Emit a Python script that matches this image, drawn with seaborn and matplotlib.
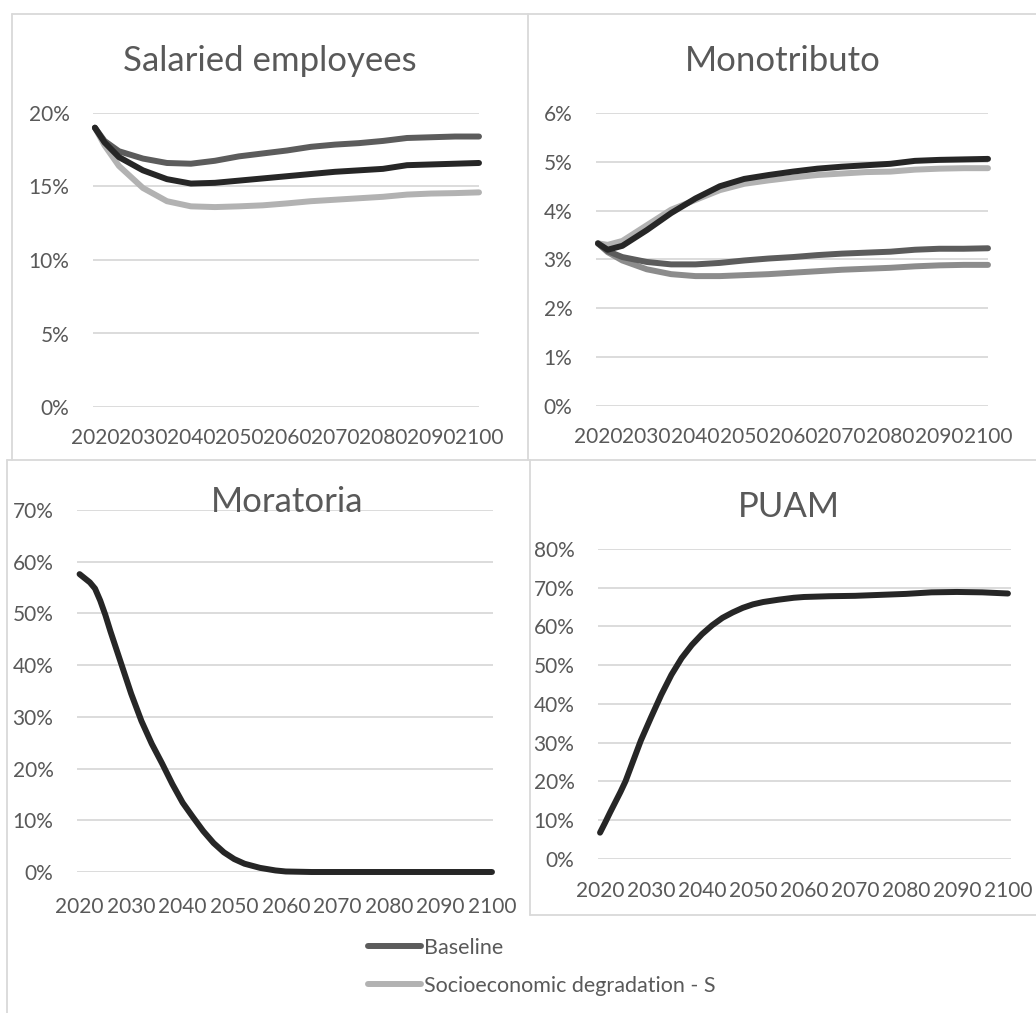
import pandas as pd
import matplotlib
matplotlib.use("Agg")
import matplotlib.pyplot as plt
from matplotlib.lines import Line2D
from matplotlib.ticker import FuncFormatter
import seaborn as sns

# values, in percent
years = [2020, 2022, 2025, 2030, 2035, 2040, 2045, 2050, 2055, 2060,
         2065, 2070, 2075, 2080, 2085, 2090, 2095, 2100]

sal_baseline = [19.0, 18.1, 17.4, 16.9, 16.6, 16.55, 16.75, 17.05, 17.25, 17.45,
                17.7, 17.85, 17.95, 18.1, 18.3, 18.35, 18.4, 18.4]
sal_socio = [19.0, 17.8, 16.4, 14.9, 14.0, 13.65, 13.6, 13.65, 13.72, 13.85,
             14.0, 14.1, 14.2, 14.3, 14.45, 14.52, 14.55, 14.6]
sal_other = [19.0, 18.0, 17.0, 16.1, 15.5, 15.2, 15.25, 15.4, 15.55, 15.7,
             15.85, 16.0, 16.1, 16.2, 16.45, 16.5, 16.55, 16.6]

mono_black = [3.33, 3.2, 3.28, 3.6, 3.95, 4.25, 4.5, 4.65, 4.73, 4.8,
              4.86, 4.9, 4.93, 4.96, 5.02, 5.04, 5.05, 5.06]
mono_light = [3.33, 3.3, 3.38, 3.7, 4.02, 4.22, 4.42, 4.55, 4.62, 4.68,
              4.73, 4.76, 4.79, 4.8, 4.84, 4.86, 4.87, 4.87]
mono_dark = [3.33, 3.17, 3.05, 2.95, 2.9, 2.9, 2.93, 2.98, 3.02, 3.05,
             3.09, 3.12, 3.14, 3.16, 3.2, 3.22, 3.22, 3.23]
mono_mid = [3.33, 3.15, 2.98, 2.8, 2.7, 2.66, 2.66, 2.68, 2.7, 2.73,
            2.76, 2.79, 2.81, 2.83, 2.86, 2.88, 2.89, 2.89]

# bottom panels change fast early on, so they are read more densely
years_fine = [2020, 2021, 2022, 2023, 2024, 2025, 2026, 2027, 2028, 2030,
              2032, 2034, 2036, 2038, 2040, 2042, 2044, 2046, 2048, 2050,
              2052, 2055, 2058, 2060, 2065, 2070, 2080, 2085, 2090, 2095, 2100]
moratoria = [57.6, 56.8, 56.0, 54.8, 52.5, 49.7, 46.5, 43.5, 40.5, 34.5,
             29.2, 24.8, 21.0, 17.0, 13.4, 10.6, 7.9, 5.6, 3.8, 2.5,
             1.6, 0.8, 0.3, 0.1, 0.0, 0.0, 0.0, 0.0, 0.0, 0.0, 0.0]
puam = [6.7, 9.3, 12.0, 14.6, 17.2, 20.0, 23.5, 27.0, 30.5, 36.5,
        42.3, 47.5, 51.8, 55.2, 58.0, 60.3, 62.2, 63.6, 64.8, 65.7,
        66.3, 66.9, 67.4, 67.6, 67.8, 67.9, 68.4, 68.8, 68.9, 68.8, 68.5]

x_ticks = [2020, 2030, 2040, 2050, 2060, 2070, 2080, 2090, 2100]
legend_labels = ["Baseline", "Socioeconomic degradation - S"]

BLACK = "#262626"
DARK = "#5c5c5c"
MID = "#8c8c8c"
LIGHT = "#b2b2b2"
GRID = "#d9d9d9"
TXT = "#595959"

sns.set_theme(style="white")
plt.rcParams["font.family"] = ["Lato", "DejaVu Sans"]

W, H = 1036, 1013
fig = plt.figure(figsize=(W / 100, H / 100), dpi=100)


def px_axes(x0, x1, y_top, y_bot):
    return fig.add_axes([x0 / W, 1 - y_bot / H, (x1 - x0) / W, (y_bot - y_top) / H])


def long_df(xs, series):
    frames = []
    for name, vals in series:
        frames.append(pd.DataFrame({"year": xs, "value": vals, "series": name}))
    return pd.concat(frames, ignore_index=True)


def draw_panel(ax, xs, series, colors, xlim, ymax, ystep, xpad=15):
    df = long_df(xs, series)
    sns.lineplot(data=df, x="year", y="value", hue="series", palette=colors,
                 hue_order=[s[0] for s in series], lw=4.3, legend=False, ax=ax)
    for ln in ax.lines:
        ln.set_clip_on(False)
        ln.set_solid_capstyle("round")
        ln.set_solid_joinstyle("round")
    ax.set_xlim(*xlim)
    ax.set_ylim(0, ymax)
    ax.set_xticks(x_ticks)
    ax.set_yticks(list(range(0, ymax + 1, ystep)))
    ax.yaxis.set_major_formatter(FuncFormatter(lambda v, p: f"{v:.0f}%"))
    ax.set_xlabel("")
    ax.set_ylabel("")
    ax.set_axisbelow(True)
    ax.yaxis.grid(True, color=GRID, lw=1.3)
    ax.xaxis.grid(False)
    sns.despine(ax=ax, left=True, bottom=True)
    ax.tick_params(axis="both", length=0, labelsize=15, colors=TXT)
    ax.tick_params(axis="y", pad=17)
    ax.tick_params(axis="x", pad=xpad)
    ax.patch.set_alpha(0)


# panel frames
def seg(x0, y0, x1, y1):
    fig.add_artist(Line2D([x0 / W, x1 / W], [1 - y0 / H, 1 - y1 / H],
                          color=GRID, lw=1.3, transform=fig.transFigure))


seg(12, 14, 1040, 14)
seg(12, 14, 12, 460)
seg(528, 14, 528, 460)
seg(7, 460, 1040, 460)
seg(7, 460, 7, 1020)
seg(530, 460, 530, 915)
seg(530, 915, 1040, 915)

# Salaried employees
ax1 = px_axes(93, 479, 113, 407)
draw_panel(ax1, years,
           [("Socioeconomic degradation - S", sal_socio), ("Baseline", sal_baseline),
            ("Other", sal_other)],
           [LIGHT, DARK, BLACK], (2019.6, 2100), 20, 5)

# Monotributo
ax2 = px_axes(596, 988, 113, 406)
draw_panel(ax2, years,
           [("mid", mono_mid), ("dark", mono_dark), ("light", mono_light),
            ("black", mono_black)],
           [MID, DARK, LIGHT, BLACK], (2019.6, 2100), 6, 1)

# Moratoria
ax3 = px_axes(77, 493, 510, 872)
draw_panel(ax3, years_fine, [("Moratoria", moratoria)], [BLACK],
           (2019.5, 2100.2), 70, 10, xpad=18)

# PUAM
ax4 = px_axes(598, 1011, 549, 858.6)
draw_panel(ax4, years_fine, [("PUAM", puam)], [BLACK],
           (2019.6, 2100.6), 80, 10, xpad=16)

# titles
title_kw = dict(ha="center", va="baseline", fontsize=25, color=TXT)
fig.text(270 / W, 1 - 71 / H, "Salaried employees", **title_kw)
fig.text(783 / W, 1 - 71 / H, "Monotributo", **title_kw)
fig.text(287 / W, 1 - 512 / H, "Moratoria", **title_kw)
fig.text(789 / W, 1 - 517 / H, "PUAM", **title_kw)

# legend
handles = [Line2D([], [], color=DARK, lw=4.3), Line2D([], [], color=LIGHT, lw=4.3)]
fig.legend(handles, legend_labels, loc="upper left",
           bbox_to_anchor=(368 / W, 1 - 938 / H), frameon=False, fontsize=15.5,
           handlelength=2.47, handletextpad=0.12, labelspacing=0.82,
           borderpad=0, borderaxespad=0, labelcolor=TXT)

fig.savefig("out.png", dpi=100)
